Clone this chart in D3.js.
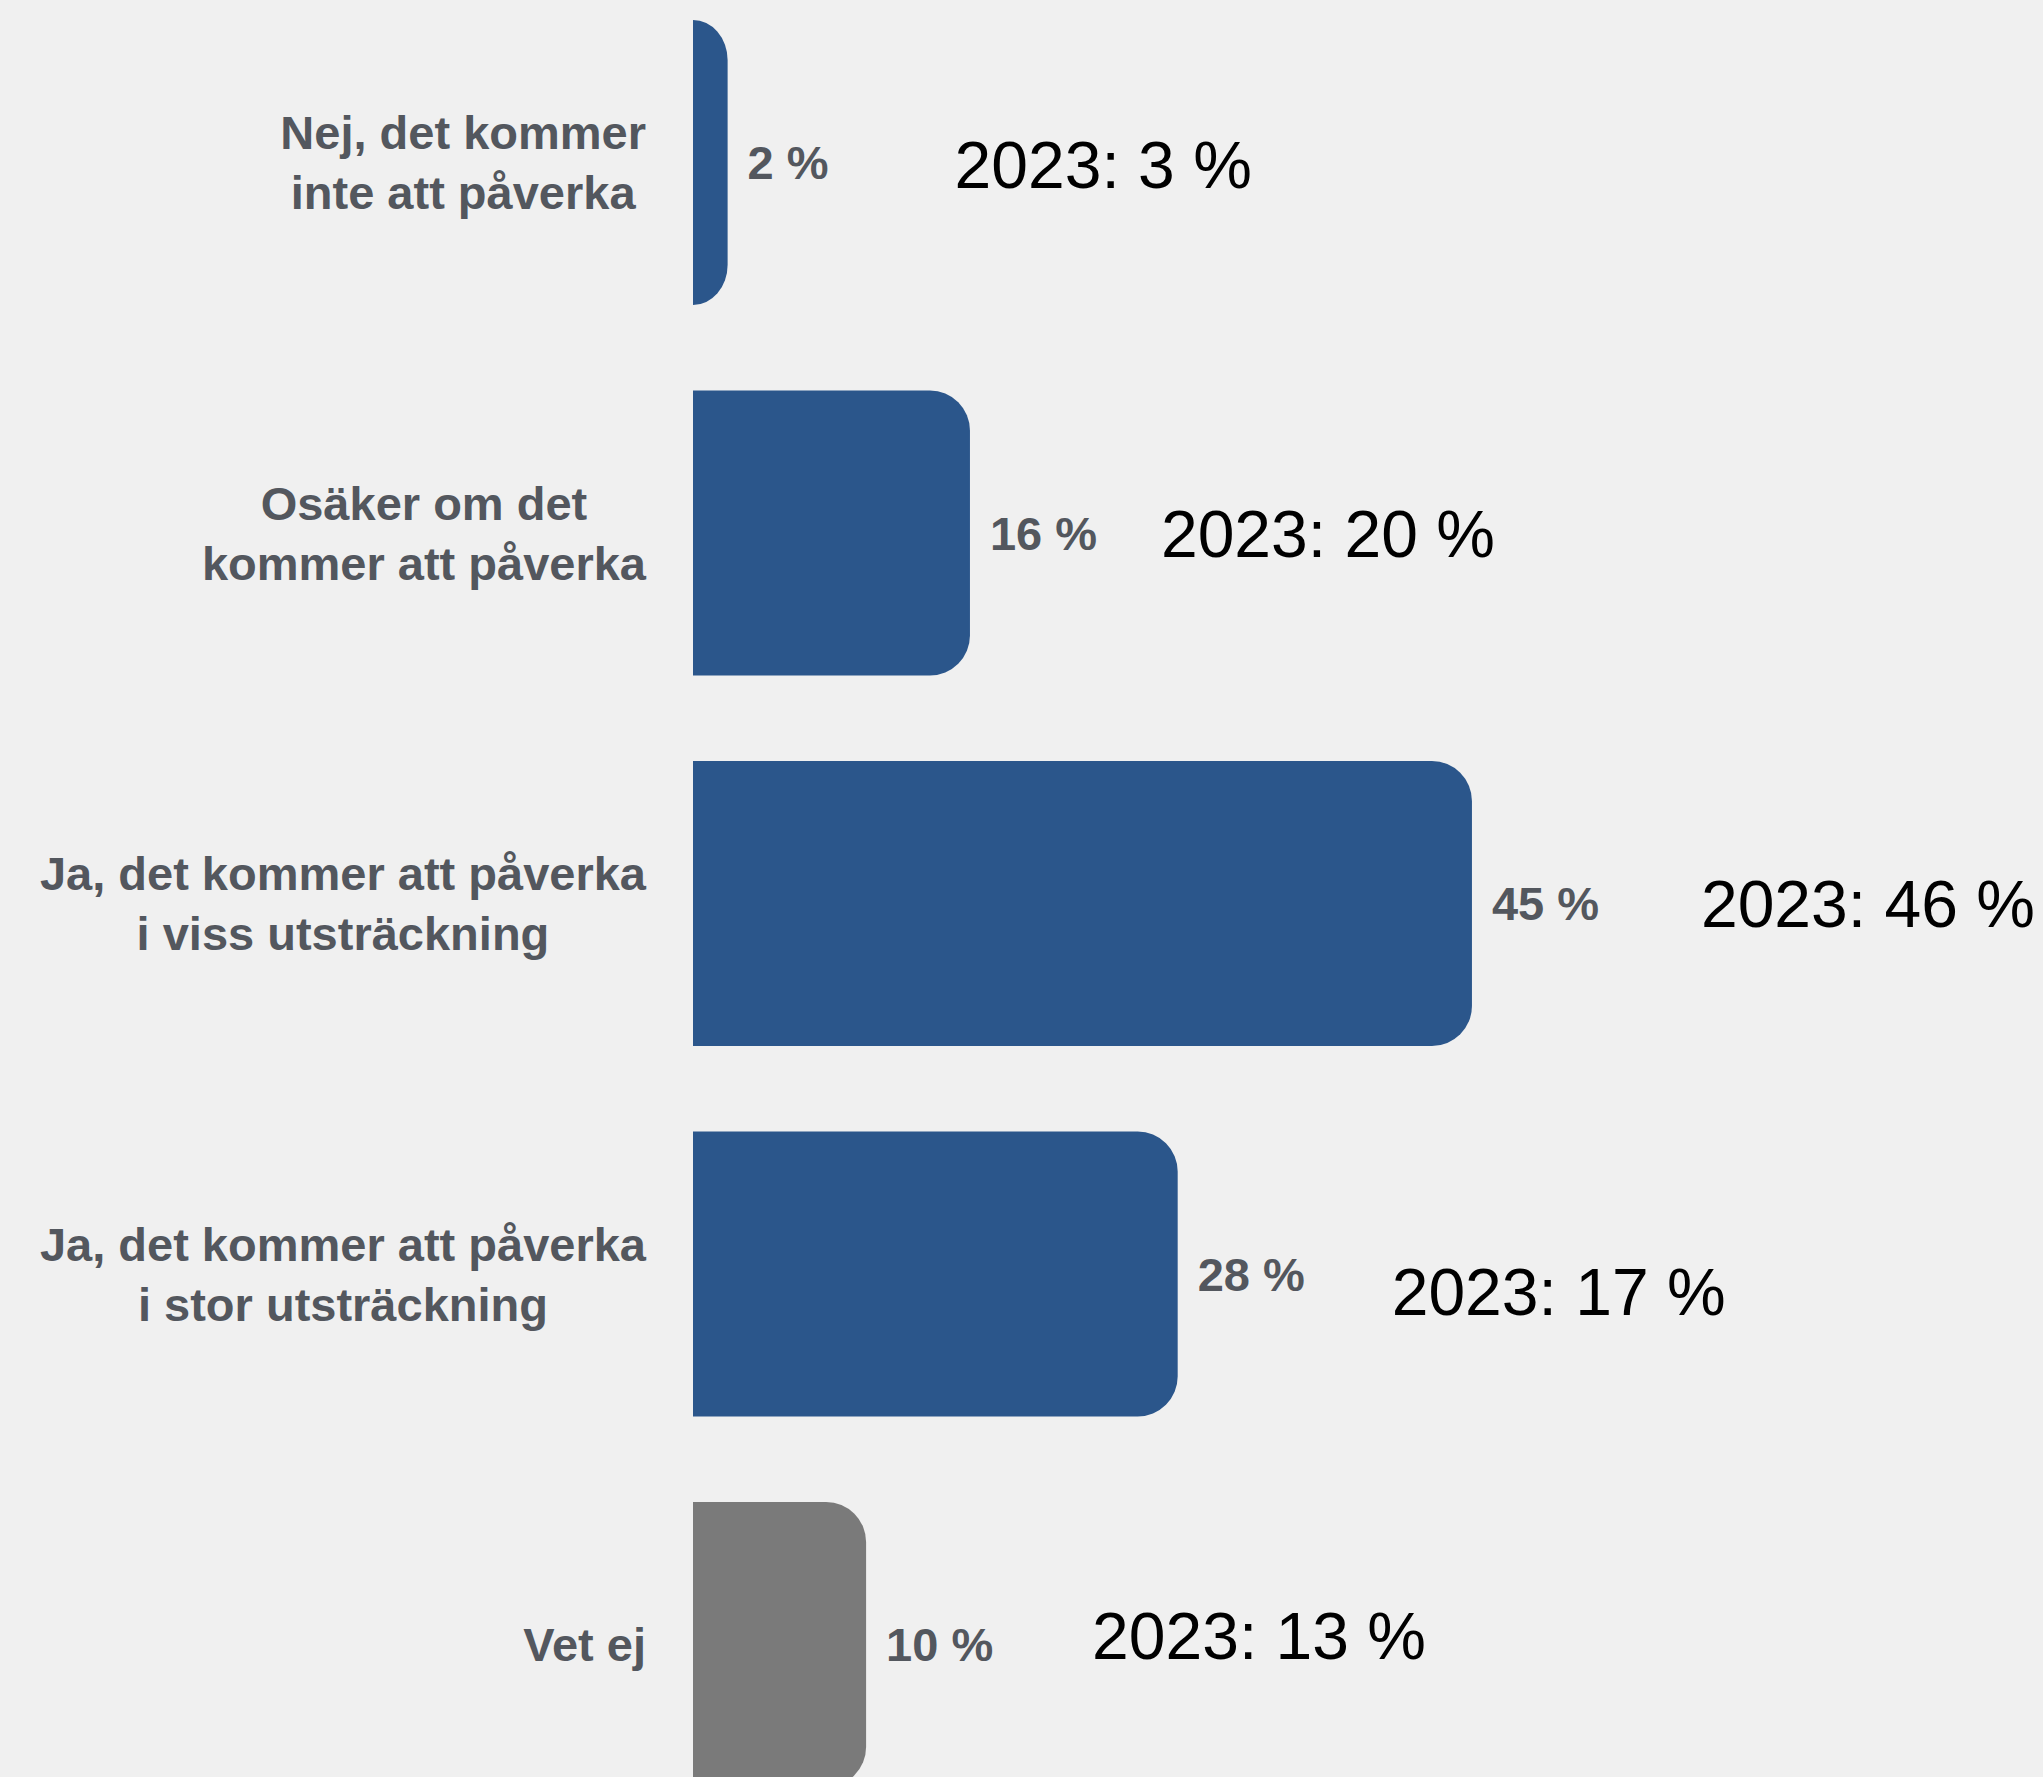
<!DOCTYPE html>
<html lang="sv">
<head>
<meta charset="utf-8">
<script src="https://cdn.jsdelivr.net/npm/d3@7"></script>
<style>
  html, body { margin: 0; padding: 0; background: #f0f0f0; }
  svg { display: block; }
</style>
</head>
<body>
<script>
// Survey answers (share of respondents, %)
const categories = [
  "Nej, det kommer\ninte att påverka",
  "Osäker om det\nkommer att påverka",
  "Ja, det kommer att påverka\ni viss utsträckning",
  "Ja, det kommer att påverka\ni stor utsträckning",
  "Vet ej"
];
const values = [2, 16, 45, 28, 10];
const values2023 = [3, 20, 46, 17, 13];
const prevYearLabel = "2023";

// ---- layout ----
const W = 2043, H = 1777;
const barLeft = 693;
const labelRight = 646;
const radius = 40;
const blue = "#2b568b", grey = "#7a7a7a";
const labelColor = "#53575e";
// hand-placed offsets of the previous-year notes (from bar end / bar centre)
const noteDx = [227, 191, 229, 214, 226];
const noteDy = [2, 0, 0, 17, -9];

const svg = d3.select("body").append("svg")
  .attr("width", W).attr("height", H);

svg.append("rect").attr("width", W).attr("height", H).attr("fill", "#f0f0f0");

const x = d3.scaleLinear().domain([0, 100]).range([barLeft, barLeft + 1731]);
const y = d3.scaleBand().domain(categories).range([20, 1787])
  .paddingInner(0.2308).paddingOuter(0);

// bar with rounded right-hand corners only
function barPath(x0, x1, y0, y1) {
  const w = x1 - x0;
  const rx = Math.min(radius, w), ry = Math.min(radius, (y1 - y0) / 2);
  return `M${x0},${y0}H${x1 - rx}` +
    `A${rx},${ry} 0 0 1 ${x1},${y0 + ry}` +
    `V${y1 - ry}` +
    `A${rx},${ry} 0 0 1 ${x1 - rx},${y1}` +
    `H${x0}Z`;
}

const rows = categories.map((c, i) => ({
  cat: c, v: values[i], prev: values2023[i], i,
  color: c === "Vet ej" ? grey : blue
}));

const g = svg.append("g");

g.selectAll("path.bar").data(rows).join("path")
  .attr("class", "bar")
  .attr("fill", d => d.color)
  .attr("d", d => barPath(x(0), x(d.v), y(d.cat), y(d.cat) + y.bandwidth()));

// value labels
g.selectAll("text.val").data(rows).join("text")
  .attr("class", "val")
  .attr("x", d => x(d.v) + 20)
  .attr("y", d => y(d.cat) + y.bandwidth() / 2)
  .attr("dy", "0.36em")
  .attr("font-family", "'Liberation Sans', Arial, sans-serif")
  .attr("font-weight", "bold")
  .attr("font-size", 47)
  .attr("fill", labelColor)
  .text(d => `${d.v} %`);

// previous-year notes
g.selectAll("text.prev").data(rows).join("text")
  .attr("class", "prev")
  .attr("x", d => x(d.v) + noteDx[d.i])
  .attr("y", d => y(d.cat) + y.bandwidth() / 2 + noteDy[d.i])
  .attr("dy", "0.36em")
  .attr("font-family", "'Liberation Sans', Arial, sans-serif")
  .attr("font-size", 66)
  .attr("fill", "#000")
  .text(d => `${prevYearLabel}: ${d.prev} %`);

// category labels: block right-aligned, lines centred within the block
const lineH = 60;
const cats = g.selectAll("text.cat").data(rows).join("text")
  .attr("class", "cat")
  .attr("font-family", "'Liberation Sans', Arial, sans-serif")
  .attr("font-weight", "bold")
  .attr("font-size", 47)
  .attr("fill", labelColor)
  .attr("text-anchor", "middle");

cats.each(function(d) {
  const t = d3.select(this);
  const lines = d.cat.split("\n");
  const cy = y(d.cat) + y.bandwidth() / 2;
  const first = cy - (lines.length - 1) * lineH / 2;
  const spans = lines.map((ln, k) => t.append("tspan")
    .attr("y", first + k * lineH)
    .attr("dy", "0.36em")
    .text(ln));
  const maxW = d3.max(spans, s => s.node().getComputedTextLength());
  const cx = labelRight - maxW / 2;
  spans.forEach(s => s.attr("x", cx));
});
</script>
</body>
</html>
